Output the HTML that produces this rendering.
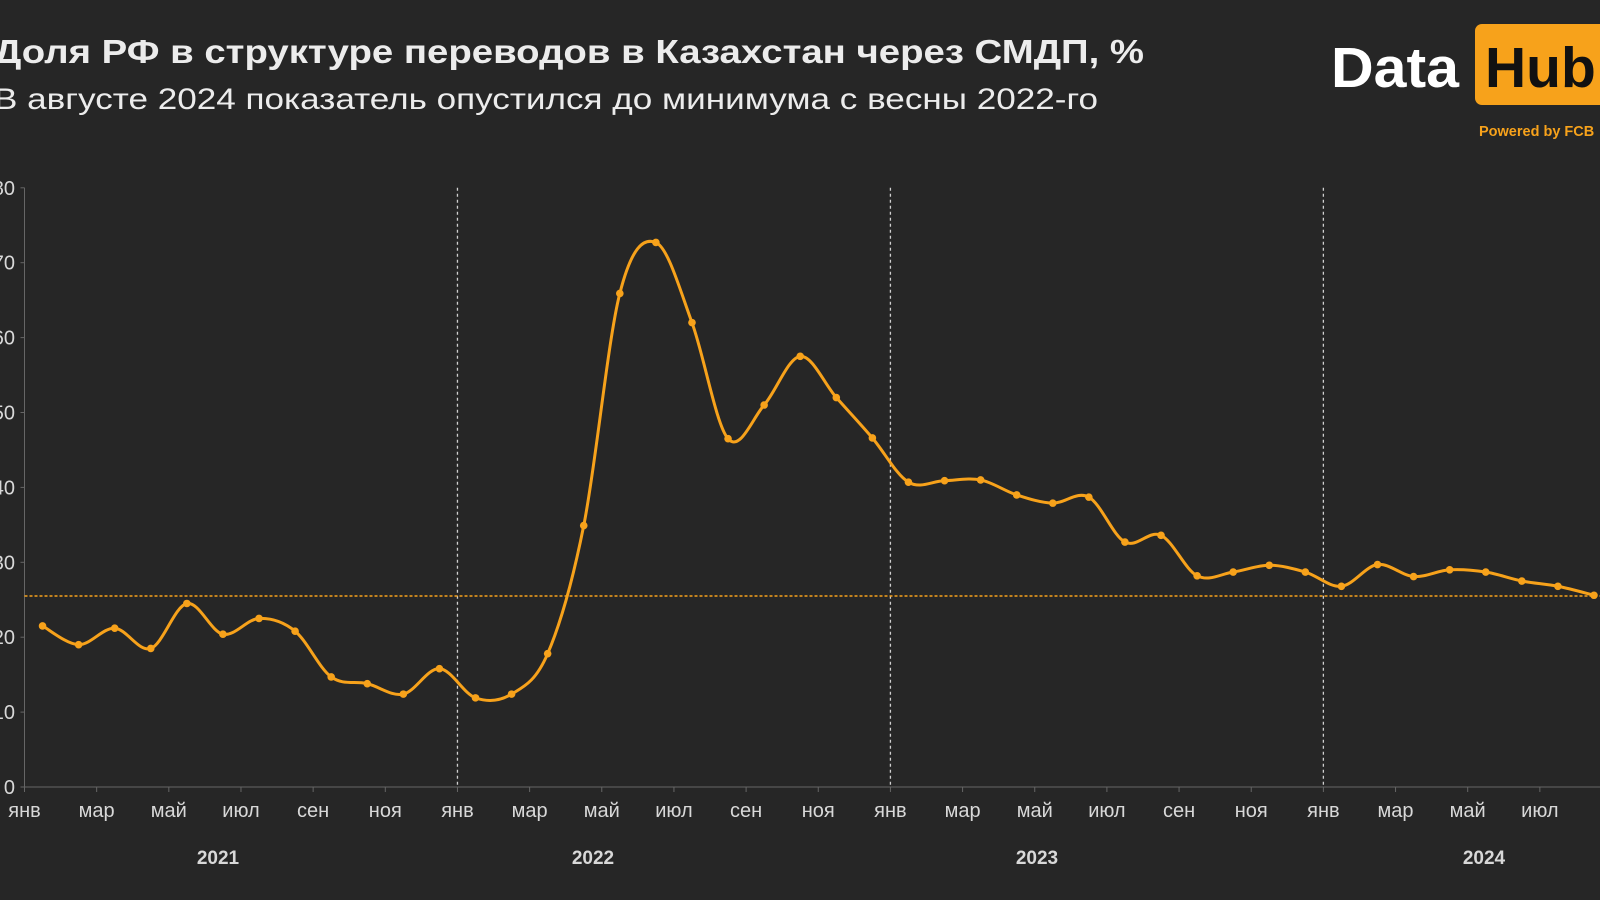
<!DOCTYPE html>
<html><head><meta charset="utf-8"><style>
html,body{margin:0;padding:0;background:#262626;}
svg{display:block;font-family:"Liberation Sans","DejaVu Sans",sans-serif;}
</style></head><body>
<svg id="s" width="1600" height="900" viewBox="0 0 1600 900" xmlns="http://www.w3.org/2000/svg">
<rect width="1600" height="900" fill="#262626"/>
<text x="-6" y="63" fill="#ececec" font-size="33" font-weight="bold" textLength="1150" lengthAdjust="spacingAndGlyphs">Доля РФ в структуре переводов в Казахстан через СМДП, %</text>
<text x="-6" y="109" fill="#ececec" font-size="30" textLength="1104" lengthAdjust="spacingAndGlyphs">В августе 2024 показатель опустился до минимума с весны 2022-го</text>
<text x="1331" y="87" fill="#ffffff" font-size="57" font-weight="bold" textLength="128" lengthAdjust="spacingAndGlyphs">Data</text>
<rect x="1475" y="24" width="150" height="81" rx="7" fill="#f7a21b"/>
<text x="1485" y="87" fill="#111" font-size="57" font-weight="bold">Hub</text>
<text x="1479" y="136" fill="#f7a21b" font-size="14.5" font-weight="bold">Powered by FCB</text>
<g id="g"></g>
</svg>
<script>
var g=document.getElementById('g'),NS='http://www.w3.org/2000/svg';
function el(t,a,txt){var e=document.createElementNS(NS,t);for(var k in a)e.setAttribute(k,a[k]);if(txt!=null)e.textContent=txt;g.appendChild(e);return e;}
var X0=24.5,MW=36.08,Y0=787,YS=7.49;
function X(m){return X0+(m+0.5)*MW;}function Y(v){return Y0-v*YS;}
el('line',{x1:X0,y1:Y(80),x2:X0,y2:Y0,stroke:'#666','stroke-width':1});
el('line',{x1:X0,y1:Y0,x2:1600,y2:Y0,stroke:'#666','stroke-width':1});
for(var v=0;v<=80;v+=10){el('text',{x:15,y:Y(v)+7,fill:'#d8d8d8','font-size':20,'text-anchor':'end'},String(v));el('line',{x1:X0-4,y1:Y(v),x2:X0,y2:Y(v),stroke:'#666'});}
var mn=['янв','мар','май','июл','сен','ноя'];
for(var i=0;i<=44;i+=2){var x=X0+i*MW;el('line',{x1:x,y1:Y0,x2:x,y2:Y0+5,stroke:'#666'});if(i<44)el('text',{x:x,y:817,fill:'#d8d8d8','font-size':20,'text-anchor':'middle'},mn[(i/2)%6]);}
[[218,'2021'],[593,'2022'],[1037,'2023'],[1484,'2024']].forEach(function(p){el('text',{x:p[0],y:864,fill:'#d8d8d8','font-size':19,'font-weight':'bold','text-anchor':'middle'},p[1]);});
[12,24,36].forEach(function(m){var x=X0+m*MW;el('line',{x1:x,y1:Y(80),x2:x,y2:Y0,stroke:'#cfcfcf','stroke-width':1.3,'stroke-dasharray':'3,3'});});
el('line',{x1:X0,y1:Y(25.5),x2:1600,y2:Y(25.5),stroke:'#f7a21b','stroke-width':1.5,'stroke-dasharray':'3,2'});
var d=[21.5,19,21.2,18.5,24.5,20.4,22.5,20.8,14.7,13.8,12.4,15.8,
11.9,12.4,17.8,34.9,65.9,72.7,62,46.5,51,57.5,52,46.6,
40.7,40.9,41,39,37.9,38.7,32.7,33.6,28.2,28.7,29.6,28.7,
26.8,29.7,28.1,29,28.7,27.5,26.8,25.6];
var P=d.map(function(v,i){return [X(i),Y(v)];});
var s='M'+P[0][0]+','+P[0][1];
for(var i=0;i<P.length-1;i++){var p0=P[Math.max(0,i-1)],p1=P[i],p2=P[i+1],p3=P[Math.min(P.length-1,i+2)],t=1/3;
s+=' C'+(p1[0]+(p2[0]-p0[0])*t/2)+','+(p1[1]+(p2[1]-p0[1])*t/2)+' '+(p2[0]-(p3[0]-p1[0])*t/2)+','+(p2[1]-(p3[1]-p1[1])*t/2)+' '+p2[0]+','+p2[1];}
el('path',{d:s,fill:'none',stroke:'#f7a21b','stroke-width':3});
P.forEach(function(p){el('circle',{cx:p[0],cy:p[1],r:3.8,fill:'#f7a21b'});});
</script>
</body></html>
